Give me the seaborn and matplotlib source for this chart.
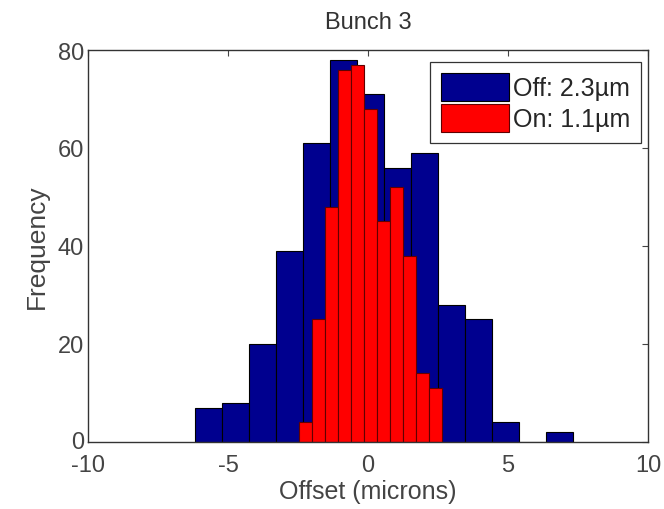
import numpy as np
import pandas as pd
import matplotlib
matplotlib.use("Agg")
import matplotlib.pyplot as plt
import matplotlib.transforms as mtransforms
import seaborn as sns

# Histogram counts (MATLAB-style hist, equal bins)
off_centers = [-5.70, -4.73, -3.77, -2.80, -1.84, -0.87, 0.09, 1.06, 2.02, 2.99, 3.95, 4.92, 5.88, 6.85]
off_counts = [7, 8, 20, 39, 61, 78, 71, 56, 59, 28, 25, 4, 0, 2]
off_range = (-6.18, 7.33)

on_centers = [-2.22, -1.76, -1.30, -0.83, -0.37, 0.09, 0.55, 1.01, 1.48, 1.94, 2.40]
on_counts = [4, 25, 48, 76, 77, 68, 45, 52, 38, 14, 11]
on_range = (-2.45, 2.63)

labels = ["Off: 2.3\u00b5m", "On: 1.1\u00b5m"]

sns.set_style("white")
plt.rcParams["font.family"] = ["Liberation Sans", "DejaVu Sans"]
plt.rcParams["axes.unicode_minus"] = False

fig = plt.figure(figsize=(6.64, 5.10), dpi=100)
ax = fig.add_axes([0.1325, 0.1314, 0.8435, 0.7686])

sns.histplot(x=off_centers, weights=off_counts, bins=len(off_counts), binrange=off_range,
             color="#00008f", alpha=1, edgecolor="black", linewidth=0.8, ax=ax, label=labels[0])
sns.histplot(x=on_centers, weights=on_counts, bins=len(on_counts), binrange=on_range,
             color="#ff0000", alpha=1, edgecolor="#600000", linewidth=0.8, ax=ax, label=labels[1])

ax.set_xlim(-10, 10)
ax.set_ylim(0, 80)
ax.set_xticks([-10, -5, 0, 5, 10])
ax.set_yticks([0, 20, 40, 60, 80])
ax.tick_params(direction="in", length=4, width=0.8, top=True, right=True,
               labelsize=17, colors="#444444", labelcolor="#444444")
ax.tick_params(axis="x", pad=9)
ax.tick_params(axis="y", pad=3)
for s in ax.spines.values():
    s.set_color("#333333")
    s.set_linewidth(1.0)

# nudge the "0" on the y axis up a little so it clears the "-10" below it
fig.canvas.draw()
ylab0 = ax.get_yticklabels()[0]
ylab0.set_transform(ylab0.get_transform() + mtransforms.ScaledTranslation(0, 2 / 72, fig.dpi_scale_trans))

ax.set_title("Bunch 3", fontsize=17, color="#333333", pad=16)
ax.set_xlabel("Offset (microns)", fontsize=18, color="#444444", labelpad=2)
ax.set_ylabel("Frequency", fontsize=19, color="#444444", labelpad=6)

leg = ax.legend(loc="upper right", fontsize=18, handlelength=2.7, handleheight=1.3,
                handletextpad=0.15, labelspacing=0.15, borderpad=0.45, borderaxespad=0,
                fancybox=False, framealpha=1, edgecolor="#333333",
                bbox_to_anchor=(0.9875, 0.969))
leg.get_frame().set_linewidth(0.9)

fig.savefig("out.png", dpi=100)
